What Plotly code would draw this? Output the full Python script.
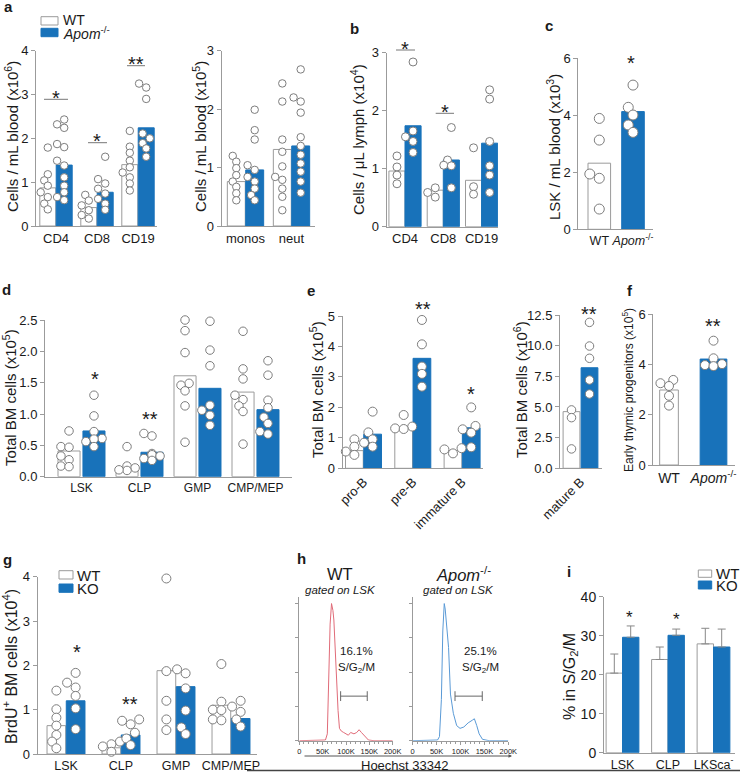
import plotly.graph_objects as go

W, H = 740, 772
BLUE = "#1872ba"
EDGE = "#9b9b9b"
DOT_EDGE = "#7d7d7d"
TXT = "#1a1a1a"
FONT = "Liberation Sans, Arial, sans-serif"

# ---------------- data ----------------
a1_categories = ["CD4", "CD8", "CD19"]
a1_wt_mean = [0.87, 0.42, 1.40]
a1_ko_mean = [1.39, 0.77, 2.24]
a1_wt_points = [[1.79, 1.18, 1.04, 0.92, 0.77, 0.66, 0.51, 0.38],
                [0.71, 0.58, 0.47, 0.36, 0.25, 0.17],
                [2.17, 1.81, 1.67, 1.49, 1.34, 1.22, 1.11, 0.97, 0.81]]
a1_ko_points = [[2.43, 2.32, 2.24, 1.87, 1.80, 1.49, 1.38, 1.11, 0.92, 0.77, 0.66, 0.59],
                [1.58, 1.07, 0.97, 0.85, 0.74, 0.62, 0.51, 0.37],
                [3.25, 3.16, 2.90, 2.11, 2.00, 1.89, 1.77, 1.58]]

a2_categories = ["monos", "neut"]
a2_wt_mean = [0.76, 1.31]
a2_ko_mean = [0.96, 1.37]
a2_wt_points = [[1.20, 1.10, 0.99, 0.87, 0.76, 0.67, 0.56, 0.44],
                [2.44, 2.13, 1.48, 1.27, 1.02, 0.84, 0.79, 0.64, 0.50, 0.27]]
a2_ko_points = [[1.99, 1.64, 1.48, 1.04, 0.96, 0.84, 0.76, 0.64, 0.53, 0.44],
                [2.68, 2.20, 2.13, 1.94, 1.52, 1.37, 1.22, 1.07, 0.93, 0.76, 0.57]]

b_categories = ["CD4", "CD8", "CD19"]
b_wt_mean = [0.96, 0.63, 0.80]
b_ko_mean = [1.74, 1.15, 1.44]
b_wt_points = [[1.22, 1.03, 0.89, 0.74], [0.67, 0.59, 0.51], [1.36, 0.69, 0.56]]
b_ko_points = [[2.84, 1.65, 1.55, 1.47, 1.28], [1.71, 1.15, 1.06, 1.05, 0.67],
               [2.36, 2.20, 1.47, 1.05, 0.89, 0.59]]

c_groups = ["WT", "<i>Apom</i><sup>-/-</sup>"]
c_mean = [2.32, 4.13]
c_points = [[3.89, 3.13, 1.94, 1.79, 0.71], [5.06, 4.28, 4.01, 3.66, 3.40]]

d_categories = ["LSK", "CLP", "GMP", "CMP/MEP"]
d_wt_mean = [0.41, 0.14, 1.61, 1.35]
d_ko_mean = [0.73, 0.39, 1.41, 1.07]
d_wt_points = [[0.73, 0.48, 0.47, 0.33, 0.27, 0.17, 0.16],
               [0.48, 0.17, 0.14, 0.10, 0.11],
               [2.50, 2.33, 1.98, 1.49, 1.46, 1.37, 1.13, 0.55],
               [2.32, 1.72, 1.56, 1.30, 1.23, 1.13, 1.04, 0.52]]
d_ko_points = [[1.30, 0.97, 0.72, 0.61, 0.60, 0.56, 0.48],
               [0.69, 0.65, 0.37, 0.35, 0.33, 0.29, 0.26],
               [2.48, 2.02, 1.77, 1.14, 1.06, 0.98, 0.82],
               [1.85, 1.62, 1.22, 1.10, 0.95, 0.85, 0.72, 0.68]]

e1_categories = ["pro-B", "pre-B", "immature B"]
e1_wt_mean = [0.58, 1.31, 0.58]
e1_ko_mean = [1.12, 3.61, 1.33]
e1_wt_points = [[0.95, 0.71, 0.55, 0.44], [1.75, 1.37, 1.31, 1.29], [0.66, 0.62, 0.49]]
e1_ko_points = [[1.86, 1.18, 0.95, 0.84, 0.71], [4.87, 4.07, 3.34, 3.10, 2.68],
                [2.00, 1.39, 1.28, 1.17, 0.69]]

e2_categories = ["mature B"]
e2_wt_mean = [4.62]
e2_ko_mean = [8.20]
e2_wt_points = [[4.76, 4.13, 1.58]]
e2_ko_points = [[11.9, 9.97, 8.97, 7.20, 6.06]]

f_groups = ["WT", "<i>Apom</i><sup>-/-</sup>"]
f_mean = [2.98, 4.21]
f_points = [[3.38, 3.25, 3.14, 2.75, 2.36], [4.94, 4.24, 4.01, 3.97, 3.93]]

g_categories = ["LSK", "CLP", "GMP", "CMP/MEP"]
g_wt_mean = [0.64, 0.14, 1.88, 1.10]
g_ko_mean = [1.20, 0.43, 1.52, 0.80]
g_wt_points = [[1.43, 1.01, 0.82, 0.64, 0.43, 0.28, 0.13],
               [0.28, 0.22, 0.17, 0.05],
               [3.96, 1.87, 1.20, 0.78, 0.54],
               [2.03, 1.18, 1.00, 0.99, 0.78, 0.76]]
g_ko_points = [[1.83, 1.61, 1.50, 1.31, 1.03, 0.56],
               [0.78, 0.75, 0.67, 0.48, 0.35, 0.20],
               [1.91, 1.82, 1.48, 0.98, 0.60, 0.45],
               [1.20, 1.07, 0.95, 0.78, 0.62]]

h_wt_hoechst_k = [0, 40, 56, 60, 63, 66, 69, 72, 74, 77, 80, 83, 86, 90, 95, 100, 105, 110,
                  117, 123, 128, 133, 138, 143, 148, 160, 200]
h_wt_counts = [0, 0, 0.5, 5, 40, 85, 100, 95, 88, 65, 44, 22, 9, 7, 6, 5, 4, 6,
               5, 6, 8, 6, 4, 2, 0.5, 0, 0]
h_apom_hoechst_k = [0, 40, 52, 56, 60, 63, 66, 68, 71, 75, 79, 85, 92, 99, 107, 116, 125,
                    129, 134, 139, 146, 160, 200]
h_apom_counts = [0, 0, 0.5, 3, 30, 80, 100, 96, 85, 68, 34, 20, 11, 9, 10, 13, 15,
                 16, 11, 5, 1, 0, 0]
h_gate_k = [88.5, 145.5]
h_gate_level = 32.5
h_wt_pct = "16.1%"
h_apom_pct = "25.1%"
h_ticks_k = [0, 50, 100, 150, 200]
h_tick_labels = ["0", "50K", "100K", "150K", "200K"]

i_categories = ["LSK", "CLP", "LKSca<sup>-</sup>"]
i_wt_mean = [20.4, 23.9, 27.9]
i_wt_sem = [4.9, 3.2, 4.0]
i_ko_mean = [29.6, 30.1, 27.1]
i_ko_sem = [2.9, 1.6, 4.6]

# ---------------- helpers ----------------
fig = go.Figure()
annotations = []
shapes = []
_n = [0]


def px(x):
    return x / W


def py(y):
    return 1 - y / H


def tf(size):
    return dict(family=FONT, size=size, color=TXT)


def new_axes(x0, x1, ybot, ytop, xr, yr, xkw=None, ykw=None):
    _n[0] += 1
    n = _n[0]
    sfx = "" if n == 1 else str(n)
    xa = dict(domain=[px(x0), px(x1)], range=xr, anchor="y" + sfx, showgrid=False,
              zeroline=False, showline=True, linecolor=EDGE, linewidth=1, ticks="",
              fixedrange=True, tickfont=tf(13), automargin=False, tickangle=0)
    ya = dict(domain=[py(ybot), py(ytop)], range=yr, anchor="x" + sfx, showgrid=False,
              zeroline=False, showline=True, linecolor=EDGE, linewidth=1, ticks="outside",
              ticklen=4, tickwidth=1, tickcolor=EDGE, fixedrange=True, tickfont=tf(13),
              automargin=False)
    if xkw:
        xa.update(xkw)
    if ykw:
        ya.update(ykw)
    fig.update_layout(**{"xaxis" + sfx: xa, "yaxis" + sfx: ya})
    return "x" + sfx, "y" + sfx


def text(x, y, s, size=13, **kw):
    d = dict(x=px(x), y=py(y), xref="paper", yref="paper", text=s, showarrow=False,
             font=tf(size), xanchor="center", yanchor="middle")
    d.update(kw)
    annotations.append(d)


def swarm(values, ppu, s, dot, maxoff):
    order = sorted(range(len(values)), key=lambda k: values[k])
    placed = []
    offs = [0.0] * len(values)
    step = dot * 0.95
    for k in order:
        yv = values[k] * ppu
        chosen = 0.0
        for c in [0, -0.5, 0.5, -1, 1, -1.5, 1.5]:
            xv = c * step
            if abs(xv) > maxoff:
                continue
            if all((xv - a) ** 2 + (yv - b) ** 2 >= (0.8 * dot) ** 2 for a, b in placed):
                chosen = xv
                break
        placed.append((chosen, yv))
        offs[k] = chosen / s
    return offs


def add_dots(xr_, yr_, g, centers, point_lists):
    ppu = (g["ybot"] - g["ytop"]) / (g["yr"][1] - g["yr"][0])
    xs, ys = [], []
    for cx, pts in zip(centers, point_lists):
        offs = swarm(pts, ppu, g["s"], g["dot"], g["bw"] * g["s"] * 0.55)
        xs += [cx + o for o in offs]
        ys += list(pts)
    fig.add_trace(go.Scatter(x=xs, y=ys, mode="markers", xaxis=xr_, yaxis=yr_,
                             marker=dict(size=g["dot"], color="white",
                                         line=dict(color=DOT_EDGE, width=1)),
                             cliponaxis=False, showlegend=False, hoverinfo="skip"))


def grouped(g, cats, wt_mean, ko_mean, wt_pts, ko_pts, xfont=13, tickangle=0,
            err=None):
    xr = [(g["x0"] - g["c0"]) / g["s"], (g["x1"] - g["c0"]) / g["s"]]
    idx = list(range(len(cats)))
    xkw = dict(tickmode="array", tickvals=idx, ticktext=cats, tickfont=tf(xfont),
               tickangle=tickangle)
    ykw = dict(tick0=0, dtick=g["dtick"], tickformat=g.get("fmt", ""),
               tickfont=tf(g.get("yfont", 13)))
    xr_, yr_ = new_axes(g["x0"], g["x1"], g["ybot"], g["ytop"], xr, g["yr"], xkw, ykw)
    wt_x = [i - g["off"] for i in idx]
    ko_x = [i + g["off"] for i in idx]
    e1 = e2 = None
    if err:
        e1 = dict(type="data", symmetric=False, array=err[0], arrayminus=[0] * len(idx),
                  color="#888888", thickness=1, width=4)
        e2 = dict(type="data", symmetric=False, array=err[1], arrayminus=[0] * len(idx),
                  color="#888888", thickness=1, width=4)
    fig.add_trace(go.Bar(x=wt_x, y=wt_mean, width=g["bw"], xaxis=xr_, yaxis=yr_,
                         marker=dict(color="white", line=dict(color=EDGE, width=1)),
                         error_y=e1, showlegend=False, hoverinfo="skip"))
    fig.add_trace(go.Bar(x=ko_x, y=ko_mean, width=g["bw"], xaxis=xr_, yaxis=yr_,
                         marker=dict(color=BLUE, line=dict(color=BLUE, width=1)),
                         error_y=e2, showlegend=False, hoverinfo="skip"))
    if wt_pts is not None:
        add_dots(xr_, yr_, g, wt_x, wt_pts)
        add_dots(xr_, yr_, g, ko_x, ko_pts)
    return xr_, yr_


def paired(g, groups, means, pts, widths, xfont=13):
    xr = [(g["x0"] - g["c0"]) / g["s"], (g["x1"] - g["c0"]) / g["s"]]
    idx = list(range(len(groups)))
    xkw = dict(tickmode="array", tickvals=idx, ticktext=groups, tickfont=tf(xfont),
               tickangle=0)
    ykw = dict(tick0=0, dtick=g["dtick"], tickfont=tf(g.get("yfont", 13)))
    xr_, yr_ = new_axes(g["x0"], g["x1"], g["ybot"], g["ytop"], xr, g["yr"], xkw, ykw)
    fig.add_trace(go.Bar(x=idx, y=means, width=widths, xaxis=xr_, yaxis=yr_,
                         marker=dict(color=["white", BLUE],
                                     line=dict(color=[EDGE, BLUE], width=1)),
                         showlegend=False, hoverinfo="skip"))
    add_dots(xr_, yr_, g, idx, pts)
    return xr_, yr_


def sig_line(x0, x1, y):
    shapes.append(dict(type="line", xref="paper", yref="paper", x0=px(x0), x1=px(x1),
                       y0=py(y), y1=py(y), line=dict(color="#777777", width=1)))


def star(x, y, s, size=20):
    text(x, y + size * 0.28, s, size)


def legend_box(x0, y0, x1, y1, fill, edge):
    shapes.append(dict(type="rect", xref="paper", yref="paper", x0=px(x0), x1=px(x1),
                       y0=py(y1), y1=py(y0), fillcolor=fill, line=dict(color=edge, width=1)))


# ---------------- panel a ----------------
ga1 = dict(x0=36, x1=157, ybot=226, ytop=50.7, c0=56, s=41, yr=[0, 4], dtick=1,
           bw=0.39, off=0.2, dot=7.5)
grouped(ga1, a1_categories, a1_wt_mean, a1_ko_mean, a1_wt_points, a1_ko_points)
ga2 = dict(x0=221.5, x1=315, ybot=226, ytop=50.7, c0=245.5, s=46, yr=[0, 3], dtick=1,
           bw=0.39, off=0.2, dot=7.5)
grouped(ga2, a2_categories, a2_wt_mean, a2_ko_mean, a2_wt_points, a2_ko_points)
text(12, 137, "Cells / mL blood (x10<sup>6</sup>)", 15, textangle=-90)
text(200, 137, "Cells / mL blood (x10<sup>5</sup>)", 15, textangle=-90)
legend_box(41, 16.7, 58, 25, "white", EDGE)
legend_box(41, 28.3, 58, 36.7, BLUE, BLUE)
text(61, 20.5, "WT", 14, xanchor="left")
text(61, 32.5, "<i>Apom</i><sup>-/-</sup>", 14, xanchor="left")
sig_line(44, 68, 99.3)
sig_line(88, 107, 142.7)
sig_line(127, 145, 65.7)
star(56, 92, "*")
star(97, 135, "*")
star(136, 58, "**")

# ---------------- panel b ----------------
gb = dict(x0=386.7, x1=498, ybot=226.7, ytop=52.7, c0=405, s=38.3, yr=[0, 3], dtick=1,
          bw=0.42, off=0.21, dot=8)
grouped(gb, b_categories, b_wt_mean, b_ko_mean, b_wt_points, b_ko_points)
text(358, 140, "Cells / μL lymph (x10<sup>4</sup>)", 15, textangle=-90)
sig_line(396, 415, 50)
sig_line(435.7, 454, 113.3)
star(405, 43, "*")
star(445, 106, "*")

# ---------------- panel c ----------------
gc = dict(x0=578.3, x1=653, ybot=229.3, ytop=58.3, c0=599.3, s=33.7, yr=[0, 6], dtick=2,
          bw=0.67, off=0, dot=10)
paired(gc, c_groups, c_mean, c_points, [0.67, 0.67], xfont=12.5)
text(553, 147, "LSK / mL blood (x10<sup>3</sup>)", 15, textangle=-90)
star(630.7, 57.3, "*")

# ---------------- panel d ----------------
gd = dict(x0=45, x1=292, ybot=476.7, ytop=320, c0=81.5, s=58, yr=[0, 2.5], dtick=0.5,
          fmt=".1f", bw=0.38, off=0.215, dot=8.5)
grouped(gd, d_categories, d_wt_mean, d_ko_mean, d_wt_points, d_ko_points, xfont=12)
text(9, 398, "Total BM cells (x10<sup>5</sup>)", 15, textangle=-90)
star(95, 373, "*")
star(150, 413, "**")

# ---------------- panel e ----------------
ge1 = dict(x0=342.7, x1=483, ybot=468.3, ytop=316, c0=363.5, s=49.3, yr=[0, 5], dtick=1,
           bw=0.36, off=0.185, dot=9)
grouped(ge1, e1_categories, e1_wt_mean, e1_ko_mean, e1_wt_points, e1_ko_points,
        xfont=13, tickangle=-45)
text(316, 390, "Total BM cells (x10<sup>5</sup>)", 15, textangle=-90)
star(423, 303, "**")
star(470.7, 388, "*")

ge2 = dict(x0=560, x1=602, ybot=468.3, ytop=315, c0=580.5, s=40, yr=[0, 12.5], dtick=2.5,
           fmt=".1f", bw=0.42, off=0.225, dot=8.5)
grouped(ge2, e2_categories, e2_wt_mean, e2_ko_mean, e2_wt_points, e2_ko_points,
        xfont=13, tickangle=-45)
text(520, 390, "Total BM cells (x10<sup>6</sup>)", 15, textangle=-90)
star(589, 308, "**")

# ---------------- panel f ----------------
gf = dict(x0=653.3, x1=735, ybot=465, ytop=314, c0=669, s=44.5, yr=[0, 6], dtick=2,
          bw=0.5, off=0, dot=9)
paired(gf, f_groups, f_mean, f_points, [0.42, 0.6], xfont=14)
text(628, 390, "Early thymic progenitors (x10<sup>5</sup>)", 12, textangle=-90)
star(712.7, 320.7, "**")

# ---------------- panel g ----------------
gg = dict(x0=37.7, x1=257, ybot=754, ytop=576.7, c0=66, s=55, yr=[0, 4], dtick=1,
          bw=0.34, off=0.175, dot=9)
grouped(gg, g_categories, g_wt_mean, g_ko_mean, g_wt_points, g_ko_points, xfont=12.5)
text(10, 667, "BrdU<sup>+</sup> BM cells (x10<sup>4</sup>)", 16, textangle=-90)
legend_box(59, 570.7, 73, 579, "white", EDGE)
legend_box(59, 584, 73, 592.3, BLUE, BLUE)
text(75, 575, "WT", 15, xanchor="left")
text(75, 588.5, "KO", 15, xanchor="left")
star(76.7, 646.7, "*")
star(130, 698, "**")

# ---------------- panel h ----------------
hx = dict(tickmode="array", tickvals=h_ticks_k, ticktext=h_tick_labels, tickfont=tf(7.5),
          ticks="outside", ticklen=3, tickcolor=EDGE,
          minor=dict(dtick=10, ticklen=2, tickcolor=EDGE, ticks="outside"))
hy = dict(showticklabels=False, ticks="outside", ticklen=3, tick0=0, dtick=25)
for (x0, x1, xs, ys, col, pct, title, cx) in [
        (299.3, 392.7, h_wt_hoechst_k, h_wt_counts, "#e06b78", h_wt_pct, "WT", 340),
        (412.7, 508.3, h_apom_hoechst_k, h_apom_counts, "#5a9ad6", h_apom_pct,
         "<i>Apom</i><sup>-/-</sup>", 463)]:
    xr_, yr_ = new_axes(x0, x1, 740.7, 596.7, [0, 200], [0, 105], hx, hy)
    fig.add_trace(go.Scatter(x=xs, y=ys, mode="lines", xaxis=xr_, yaxis=yr_,
                             line=dict(color=col, width=1), showlegend=False,
                             hoverinfo="skip"))
    fig.add_trace(go.Scatter(x=h_gate_k, y=[h_gate_level] * 2, mode="lines+markers",
                             xaxis=xr_, yaxis=yr_,
                             line=dict(color="#666666", width=1),
                             marker=dict(symbol="line-ns", size=7,
                                         line=dict(color="#666666", width=1)),
                             showlegend=False, hoverinfo="skip"))
    tx = 123 if title == "WT" else 142
    annotations.append(dict(x=tx, y=65.5, xref=xr_, yref=yr_, text=pct, showarrow=False,
                            font=tf(11.5)))
    annotations.append(dict(x=tx, y=52.7, xref=xr_, yref=yr_, text="S/G<sub>2</sub>/M",
                            showarrow=False, font=tf(11.5)))
    text(cx, 574, title, 16.5)
    text(cx - (0 if title == "WT" else 5), 590, "<i>gated on LSK</i>", 11.5)

annotations.append(dict(x=px(512), y=py(756), xref="paper", yref="paper", ax=-209, ay=0,
                        text="", showarrow=True,
                        arrowhead=2, arrowsize=0.7, arrowwidth=1, arrowcolor="#555555"))
text(405, 765, "Hoechst 33342", 13)
shapes.append(dict(type="line", xref="paper", yref="paper", x0=px(247), x1=px(740),
                   y0=py(770.5), y1=py(770.5), line=dict(color="#444444", width=1.5)))

# ---------------- panel i ----------------
gi = dict(x0=604, x1=735, ybot=752.7, ytop=596.7, c0=622.5, s=45.5, yr=[0, 40], dtick=10,
          bw=0.36, off=0.18, dot=8, yfont=14)
grouped(gi, i_categories, i_wt_mean, i_ko_mean, None, None, xfont=12.5,
        err=(i_wt_sem, i_ko_sem))
text(570, 677, "% in S/G<sub>2</sub>/M", 16, textangle=-90)
legend_box(698.3, 570, 711.7, 577.3, "white", EDGE)
legend_box(698.3, 581, 711.7, 589, BLUE, BLUE)
text(714, 573.5, "WT", 15, xanchor="left")
text(714, 585.5, "KO", 15, xanchor="left")
star(629, 613, "*", 17)
star(676, 615, "*", 17)

# ---------------- panel letters ----------------
for lab, x, y in [("a", 8, 6.5), ("b", 354, 28), ("c", 549, 25.5), ("d", 6, 289),
                  ("e", 311, 290), ("f", 630, 290), ("g", 7, 559), ("h", 301.7, 558),
                  ("i", 569, 571)]:
    text(x, y, "<b>%s</b>" % lab, 15)

fig.update_layout(template="none", width=W, height=H,
                  margin=dict(l=0, r=0, t=0, b=0, pad=0, autoexpand=False),
                  paper_bgcolor="white", plot_bgcolor="rgba(0,0,0,0)",
                  barmode="overlay", hovermode=False, showlegend=False,
                  font=dict(family=FONT, color=TXT),
                  annotations=annotations, shapes=shapes)
fig.write_html("out.html", config={"displayModeBar": False, "staticPlot": True},
               post_script="document.body.style.margin='0px';"
                           "document.body.style.overflow='hidden';")
